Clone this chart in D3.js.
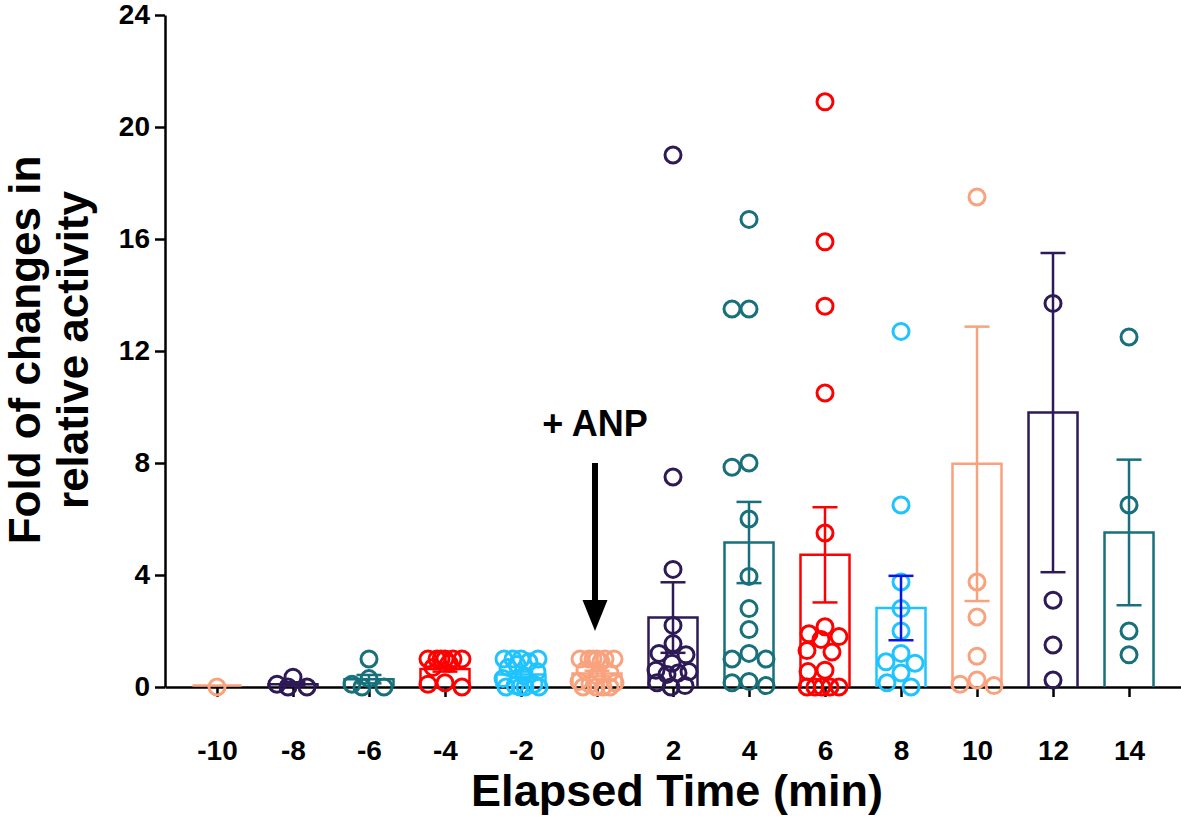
<!DOCTYPE html>
<html>
<head>
<meta charset="utf-8">
<script src="https://cdn.jsdelivr.net/npm/d3@7"></script>
<style>
  body { margin: 0; background: #fff; }
  svg text { font-family: Arial, "Liberation Sans", Helvetica, sans-serif; font-weight: bold; }
</style>
</head>
<body>
<svg id="chart" width="1181" height="817"></svg>
<script>
// czasy (min)
const times = [-10, -8, -6, -4, -2, 0, 2, 4, 6, 8, 10, 12, 14];

// srednie i SEM slupkow
const means = [0, 0.1, 0.28, 0.64, 0.45, 0.48, 2.48, 5.16, 4.72, 2.82, 7.97, 9.8, 5.52];
const sems  = [0, 0.07, 0.15, 0.09, 0.1, 0.1, 1.26, 1.45, 1.7, 1.15, 4.9, 5.7, 2.6];

// pojedyncze punkty w kazdej grupie
const pts_m10 = [0];
const pts_m8  = [0.35, 0.1, 0, 0];
const pts_m6  = [1.0, 0.3, 0.1, 0, 0];
const pts_m4  = [1, 1, 1, 1, 1, 1, 0.85, 0.7, 0.15, 0.1, 0];
const pts_m2  = [1, 1, 1, 1, 0.9, 0.8, 0.7, 0.55, 0.4, 0.3, 0.1, 0.05, 0, 0, 0, 0];
const pts_0   = [1, 1, 1, 1, 1, 1, 0.9, 0.6, 0.5, 0.4, 0.2, 0.15, 0.1, 0, 0, 0, 0];
const pts_2   = [19, 7.5, 4.2, 2.2, 1.55, 1.2, 1.15, 0.85, 0.6, 0.55, 0.5, 0.45, 0.15, 0.05, 0];
const pts_4   = [16.7, 13.5, 13.5, 8.0, 7.85, 6.0, 3.95, 2.8, 2.05, 1.2, 1.0, 1.0, 0.2, 0.15, 0.05];
const pts_6   = [20.9, 15.9, 13.6, 10.5, 5.5, 2.15, 1.9, 1.8, 1.7, 1.3, 1.25, 0.6, 0.55, 0, 0, 0, 0, 0];
const pts_8   = [12.7, 6.5, 3.75, 2.8, 2.0, 1.2, 0.9, 0.85, 0.5, 0.15, 0];
const pts_10  = [17.5, 3.75, 2.5, 1.1, 0.25, 0.1, 0.05];
const pts_12  = [13.7, 3.1, 1.5, 0.25];
const pts_14  = [12.5, 6.5, 2.0, 1.15];
const points = [pts_m10, pts_m8, pts_m6, pts_m4, pts_m2, pts_0, pts_2, pts_4, pts_6, pts_8, pts_10, pts_12, pts_14];

const yTicks = [0, 4, 8, 12, 16, 20, 24];

// adnotacja "+ ANP" (w jednostkach osi y)
const anp = { time: 0, label: "+ ANP", textAt: 9.0, from: 8.0, to: 2.0 };

// kolory grup
const palette = ["#F9A27E", "#2E1A56", "#17707C", "#FF0000", "#1FC4FF"];
const errColorOverride = { 8: "#0A14E6" };

const svg = d3.select("#chart");
const x = d3.scalePoint().domain(times).range([165, 1181]).padding(0.684);
const y = d3.scaleLinear().domain([0, 24]).range([687, 15]);

const R = 8, barW = 49, capW = 25;
const colorOf = i => palette[i % palette.length];

// osie (najpierw, zeby slupki byly na wierzchu)
const yAxis = svg.append("g").attr("transform", "translate(165,0)")
  .call(d3.axisLeft(y).tickValues(yTicks).tickSize(10).tickSizeOuter(0).tickPadding(5));
const xAxis = svg.append("g").attr("transform", "translate(0,687)")
  .call(d3.axisBottom(x).tickSize(10).tickSizeOuter(0).tickPadding(43));
[yAxis, xAxis].forEach(a => {
  a.selectAll("path, line").attr("stroke", "#000").attr("stroke-width", 2.5);
  a.selectAll("text").attr("fill", "#000").style("font-size", "28px").style("font-weight", "bold");
});

// slupki (otwarta sciezka, slupek o wysokosci 0 to kreska)
svg.append("g").selectAll("path").data(times).join("path")
  .attr("d", (d, i) => {
    const x0 = x(d) - barW / 2, x1 = x(d) + barW / 2, yb = y(0) - (means[i] === 0 ? 1.5 : 0), yt = y(means[i]) - (means[i] === 0 ? 1.5 : 0);
    return `M${x0},${yb} V${yt} H${x1} V${yb}`;
  })
  .attr("fill", "none")
  .attr("stroke", (d, i) => colorOf(i))
  .attr("stroke-width", 2.5);

// rozmieszczenie punktow (prosty beeswarm)
function swarm(vals) {
  const order = vals.map((v, i) => i).sort((a, b) => vals[b] - vals[a]);
  const placed = [];
  const out = new Array(vals.length);
  order.forEach(i => {
    const py = y(vals[i]);
    let best = 0, bestScore = -1;
    const cands = d3.range(-18, 19).sort((a, b) => Math.abs(a) - Math.abs(b) || a - b);
    for (const c of cands) {
      let md = Infinity;
      placed.forEach(p => { md = Math.min(md, Math.hypot(p[0] - c, p[1] - py)); });
      if (md >= 17) { best = c; bestScore = Infinity; break; }
      if (md > bestScore) { bestScore = md; best = c; }
    }
    placed.push([best, py]);
    out[i] = best;
  });
  return out;
}

const dots = svg.append("g");
points.forEach((vals, gi) => {
  const offs = swarm(vals);
  dots.append("g").selectAll("circle").data(vals).join("circle")
    .attr("cx", (d, j) => x(times[gi]) + offs[j])
    .attr("cy", d => y(d))
    .attr("r", R)
    .attr("fill", "none")
    .attr("stroke", colorOf(gi))
    .attr("stroke-width", 3);
});

// slupki bledu
const err = svg.append("g");
times.forEach((t, i) => {
  if (sems[i] === 0) return;
  const c = errColorOverride[t] || colorOf(i);
  const cx = x(t), hi = y(means[i] + sems[i]), lo = y(Math.max(0, means[i] - sems[i]));
  err.append("line").attr("x1", cx).attr("x2", cx).attr("y1", hi).attr("y2", lo)
    .attr("stroke", c).attr("stroke-width", 2.5);
  [hi, lo].forEach(yy => err.append("line")
    .attr("x1", cx - capW / 2).attr("x2", cx + capW / 2).attr("y1", yy).attr("y2", yy)
    .attr("stroke", c).attr("stroke-width", 2.5));
});

// tytuly osi
svg.append("text").attr("x", 677).attr("y", 806).attr("text-anchor", "middle")
  .style("font-size", "45px").text("Elapsed Time (min)");
const yt = svg.append("text").attr("transform", "translate(40,350) rotate(-90)")
  .attr("text-anchor", "middle").style("font-size", "44px");
yt.append("tspan").attr("x", 0).attr("y", 0).text("Fold of changes in");
yt.append("tspan").attr("x", 0).attr("y", 48).text("relative activity");

// strzalka ANP
const ax = x(anp.time);
svg.append("text").attr("x", ax - 2).attr("y", y(anp.textAt) + 1).attr("text-anchor", "middle")
  .style("font-size", "36px").text(anp.label);
svg.append("line").attr("x1", ax - 2).attr("x2", ax - 2)
  .attr("y1", y(anp.from)).attr("y2", y(anp.to) - 28)
  .attr("stroke", "#000").attr("stroke-width", 6);
svg.append("path")
  .attr("d", `M${ax - 14.5},${y(anp.to) - 31} L${ax + 10.5},${y(anp.to) - 31} L${ax - 2},${y(anp.to)} Z`)
  .attr("fill", "#000");
</script>
</body>
</html>
